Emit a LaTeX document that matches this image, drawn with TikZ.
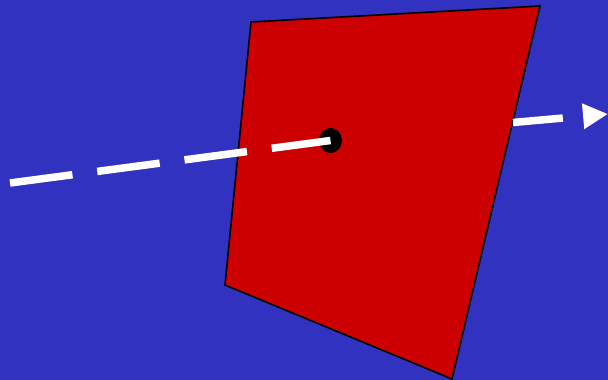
\documentclass[tikz,border=0pt]{standalone}
\usepackage{tikz}
\usetikzlibrary{arrows.meta,shapes.geometric}
\definecolor{sky}{HTML}{3232C0}
\definecolor{plane}{HTML}{CC0000}

\begin{document}
\begin{tikzpicture}[
  x=1pt,y=-1pt,
  sheet/.style={draw=black,line width=1.6pt,fill=plane,line join=miter},
  ray/.style={draw=white,line width=7.5pt},
  hit/.style={ellipse,fill=black,inner sep=0pt,minimum width=23pt,minimum height=25pt},
  tip/.style={-{Triangle[length=25pt,width=24pt]}}
]
\fill[sky] (0,0) rectangle (608,380);
\useasboundingbox (0,0) rectangle (608,380);

% the plane
\draw[sheet] (251,22) -- (540,6) -- (452,379) -- (225,285) -- cycle;

\coordinate (src) at (10,183);
\node[hit] (pierce) at (330.5,140.5) {};
\coordinate (exit) at (513,122.5);
\coordinate (goal) at (608,114);

\draw[ray,dash pattern=on 63pt off 25pt] (src) -- (pierce.center);
\draw[ray,tip,dash pattern=on 50pt off 40pt] (exit) -- (goal);
\end{tikzpicture}
\end{document}
